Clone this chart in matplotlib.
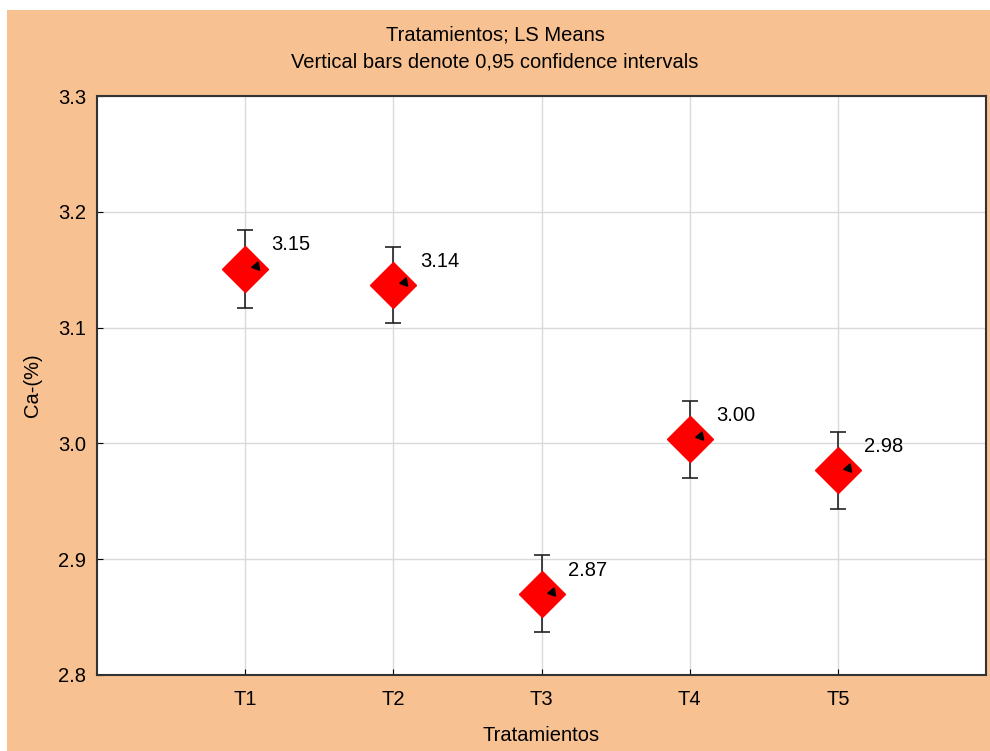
import matplotlib
matplotlib.use("Agg")
import matplotlib.pyplot as plt
from matplotlib.patches import Rectangle
import numpy as np

plt.rcParams['font.family'] = ['Liberation Sans', 'DejaVu Sans']

categories = ["T1", "T2", "T3", "T4", "T5"]
means = [3.151, 3.137, 2.870, 3.004, 2.977]
lower = [3.117, 3.104, 2.837, 2.970, 2.943]
upper = [3.184, 3.170, 2.904, 3.037, 3.010]
labels = ["3.15", "3.14", "2.87", "3.00", "2.98"]
yticks = [2.8, 2.9, 3.0, 3.1, 3.2, 3.3]

W, H = 990, 751
FS = 14.5
fig = plt.figure(figsize=(W/100, H/100), dpi=100)
fig.patch.set_facecolor('white')
fig.patches.append(Rectangle((7/W, 0), 1 - 7/W, 1 - 10/H, transform=fig.transFigure,
                             facecolor='#F8C192', edgecolor='none', zorder=-10))

ax = fig.add_axes([97/W, 1 - 675/H, (986-97)/W, (675-96)/H])
ax.set_facecolor('white')
x = np.arange(1, len(categories) + 1)
ax.set_xlim(0, 6)
ax.set_ylim(2.8, 3.3)
ax.set_xticks(x)
ax.set_xticklabels(categories)
ax.set_yticks(yticks)
ax.set_yticklabels([f"{v:.1f}" for v in yticks])
ax.grid(True, color='#d9d9d9', linewidth=1)
ax.set_axisbelow(True)
ax.tick_params(direction='in', length=4, labelsize=FS, colors='black', pad=8)
ax.tick_params(axis='x', pad=11)
for s in ax.spines.values():
    s.set_color('#333333')
    s.set_linewidth(1.5)

m = np.array(means)
yerr = [m - np.array(lower), np.array(upper) - m]
ax.errorbar(x, means, yerr=yerr, fmt='none', ecolor='#222222', elinewidth=1.2,
            capsize=6, capthick=1.2, zorder=3)
ax.plot(x, means, linestyle='none', marker='D', markersize=23, color='#ff0000',
        markeredgecolor='#ff0000', zorder=4)
ax.plot(x + 0.07, np.array(means) + 0.002, linestyle='none', marker=(3, 0, 100),
        markersize=7, color='black', zorder=5)
for xi, yi, lab in zip(x, means, labels):
    ax.annotate(lab, (xi, yi), xytext=(19, 17), textcoords='offset points',
                fontsize=FS, ha='left', va='center')

ax.set_xlabel("Tratamientos", fontsize=FS, labelpad=12)
ax.set_ylabel("Ca-(%)", fontsize=FS, labelpad=11)
fig.text(0.5, 1 - 35/H, "Tratamientos; LS Means", ha='center', va='center', fontsize=FS)
fig.text(0.5, 1 - 62/H, "Vertical bars denote 0,95 confidence intervals", ha='center',
         va='center', fontsize=FS)

fig.savefig("out.png", dpi=100, facecolor=fig.get_facecolor())
